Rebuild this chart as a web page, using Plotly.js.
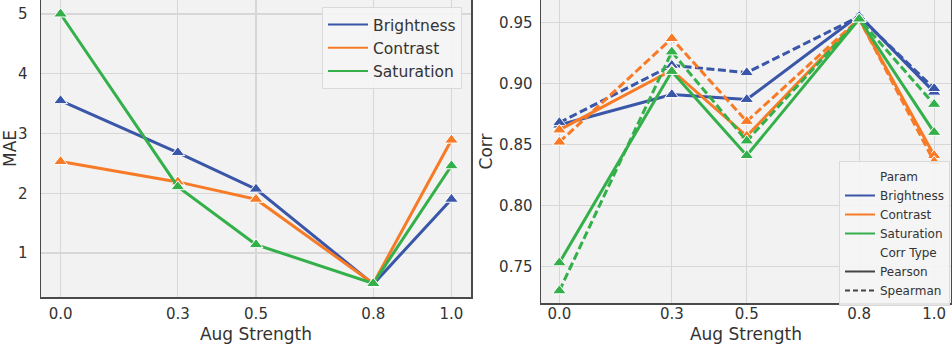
<!DOCTYPE html>
<html>
<head>
<meta charset="utf-8">
<script src="https://cdn.plot.ly/plotly-3.0.1.min.js"></script>
<style>html,body{margin:0;padding:0;background:#fff;}#chart{width:952px;height:344px;}</style>
</head>
<body>
<div id="chart"></div>
<script>
// ---- data ----
const augStrength = [0.0, 0.3, 0.5, 0.8, 1.0];
const xTickLabels = ["0.0", "0.3", "0.5", "0.8", "1.0"];
const params = ["Brightness", "Contrast", "Saturation"];
const corrTypes = ["Pearson", "Spearman"];

// MAE (left panel)
const maeBrightness = [3.55, 2.68, 2.07, 0.48, 1.90];
const maeContrast   = [2.53, 2.19, 1.90, 0.49, 2.89];
const maeSaturation = [5.00, 2.11, 1.14, 0.49, 2.46];

// Corr (right panel)
const pearsonBrightness  = [0.866, 0.891, 0.887, 0.956, 0.893];
const spearmanBrightness = [0.868, 0.915, 0.909, 0.955, 0.896];
const pearsonContrast    = [0.862, 0.911, 0.857, 0.953, 0.841];
const spearmanContrast   = [0.852, 0.937, 0.869, 0.953, 0.836];
const pearsonSaturation  = [0.753, 0.910, 0.841, 0.953, 0.860];
const spearmanSaturation = [0.730, 0.926, 0.853, 0.953, 0.883];

const colors = {Brightness: "#3a56a8", Contrast: "#f77b26", Saturation: "#34b04a"};
const maeSeries = {Brightness: maeBrightness, Contrast: maeContrast, Saturation: maeSaturation};
const corrSeries = {
  Brightness: {Pearson: pearsonBrightness, Spearman: spearmanBrightness},
  Contrast: {Pearson: pearsonContrast, Spearman: spearmanContrast},
  Saturation: {Pearson: pearsonSaturation, Spearman: spearmanSaturation}
};
const dashes = {Pearson: "solid", Spearman: "8px,3.5px"};

const W = 952, H = 344;
const traces = [];
const marker = {symbol: "triangle-up", size: 12, line: {color: "#ffffff", width: 1}};

params.forEach(p => {
  traces.push({
    x: augStrength, y: maeSeries[p], xaxis: "x", yaxis: "y", mode: "lines+markers",
    line: {color: colors[p], width: 3}, marker: Object.assign({color: colors[p]}, marker),
    showlegend: false, name: p
  });
});
params.forEach(p => {
  corrTypes.forEach(c => {
    traces.push({
      x: augStrength, y: corrSeries[p][c], xaxis: "x2", yaxis: "y2", mode: "lines+markers",
      line: {color: colors[p], width: 3, dash: dashes[c]}, marker: Object.assign({color: colors[p]}, marker),
      showlegend: false, name: p + " " + c
    });
  });
});
// legend entries (left)
params.forEach(p => {
  traces.push({x: [null], y: [null], xaxis: "x", yaxis: "y", mode: "lines", name: p,
    line: {color: colors[p], width: 2}, legend: "legend", showlegend: true});
});
// legend entries (right)
const legend2Items = [
  {name: "Param", color: "rgba(0,0,0,0)", dash: "solid"},
  {name: "Brightness", color: colors.Brightness, dash: "solid"},
  {name: "Contrast", color: colors.Contrast, dash: "solid"},
  {name: "Saturation", color: colors.Saturation, dash: "solid"},
  {name: "Corr Type", color: "rgba(0,0,0,0)", dash: "solid"},
  {name: "Pearson", color: "#444444", dash: "solid"},
  {name: "Spearman", color: "#444444", dash: "5px,3px"}
];
legend2Items.forEach(it => {
  traces.push({x: [null], y: [null], xaxis: "x2", yaxis: "y2", mode: "lines", name: it.name,
    line: {color: it.color, width: 2, dash: it.dash}, legend: "legend2", showlegend: true});
});

const fontFam = "DejaVu Sans, sans-serif";
const tickFont = {family: fontFam, size: 15, color: "#333333"};
const titleFont = {family: fontFam, size: 17, color: "#333333"};
const common = {
  showgrid: true, gridcolor: "#d7d7d7", gridwidth: 1.2, zeroline: false,
  showline: true, linecolor: "#4a4a4a", linewidth: 1.5, ticks: "", tickfont: tickFont
};

const layout = {
  width: W, height: H, margin: {l: 0, r: 0, t: 0, b: 0},
  paper_bgcolor: "#ffffff", plot_bgcolor: "#f2f2f2",
  font: {family: fontFam, color: "#333333"},
  xaxis: Object.assign({}, common, {
    domain: [41 / W, 471 / W], anchor: "y", range: [-0.05, 1.05],
    tickvals: augStrength, ticktext: xTickLabels, ticklabelstandoff: 2,
    title: {text: "Aug Strength", font: titleFont, standoff: 9}
  }),
  yaxis: Object.assign({}, common, {
    domain: [1 - 297 / H, 1], anchor: "x", range: [0.264, 5.234], mirror: true,
    tickvals: [1, 2, 3, 4, 5], ticktext: ["1", "2", "3", "4", "5"], ticklabelstandoff: 9,
    title: {text: "MAE", font: titleFont, standoff: 8}
  }),
  xaxis2: Object.assign({}, common, {
    domain: [541 / W, 951 / W], anchor: "y2", range: [-0.049, 1.045],
    tickvals: augStrength, ticktext: xTickLabels, ticklabelstandoff: -4,
    title: {text: "Aug Strength", font: titleFont, standoff: 9}
  }),
  yaxis2: Object.assign({}, common, {
    domain: [1 - 303 / H, 1], anchor: "x2", range: [0.72, 0.9686], mirror: true,
    tickvals: [0.75, 0.80, 0.85, 0.90, 0.95], ticktext: ["0.75", "0.80", "0.85", "0.90", "0.95"],
    ticklabelstandoff: 4,
    title: {text: "Corr", font: titleFont, standoff: 2}
  }),
  legend: {
    x: 322 / W, y: 1 - 7 / H, xanchor: "left", yanchor: "top",
    bgcolor: "rgba(245,245,245,0.9)", bordercolor: "#dadada", borderwidth: 1,
    font: {family: fontFam, size: 15.5, color: "#333333"}, itemwidth: 40
  },
  legend2: {
    x: 839 / W, y: 1 - 161 / H, xanchor: "left", yanchor: "top",
    bgcolor: "rgba(245,245,245,0.9)", bordercolor: "#dadada", borderwidth: 1,
    font: {family: fontFam, size: 12, color: "#333333"}, itemwidth: 30
  }
};

Plotly.newPlot("chart", traces, layout, {displayModeBar: false, staticPlot: true});
</script>
</body>
</html>
